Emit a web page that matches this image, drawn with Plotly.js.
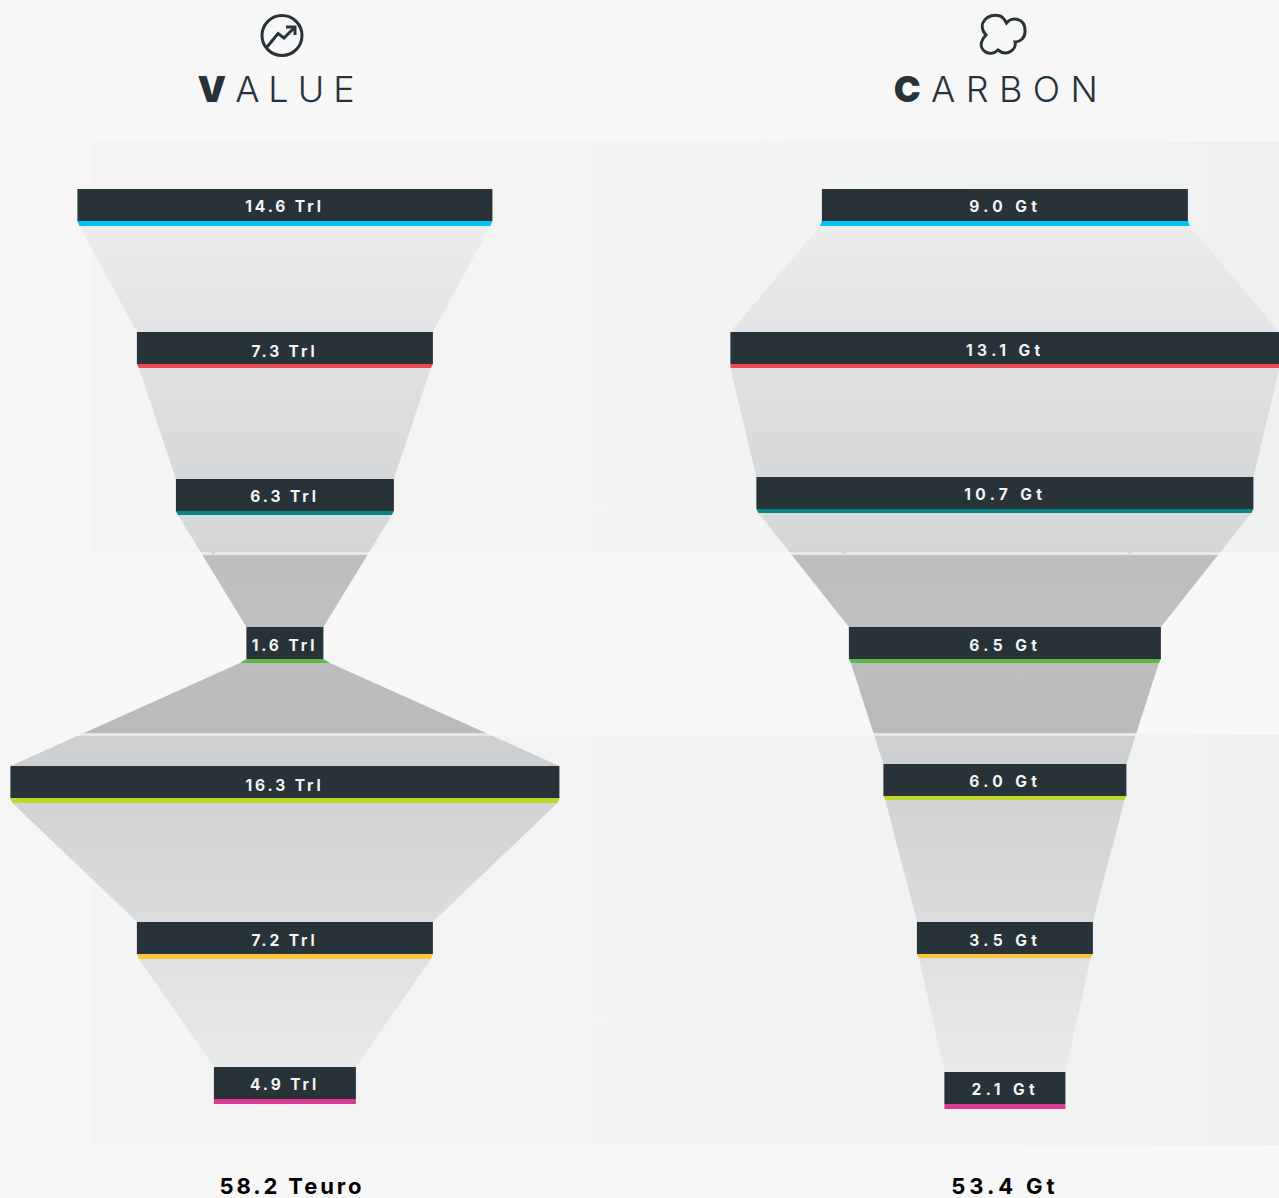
<!DOCTYPE html>
<html>
<head>
<meta charset="utf-8">
<script src="https://cdn.plot.ly/plotly-3.0.1.min.js"></script>
<style>
html,body{margin:0;padding:0;background:#f7f7f7;overflow:hidden}
.annotation[data-index="0"] text{letter-spacing:9px}
.annotation[data-index="1"] text{letter-spacing:10.4px}
.annotation[data-index="2"] text{letter-spacing:2.9px}
.annotation[data-index="3"] text{letter-spacing:3.9px}
</style>
</head>
<body>
<div id="chart" style="width:1279px;height:1198px"></div>
<script>
// Text
var valueLabels  = ["14.6 Trl","7.3 Trl","6.3 Trl","1.6 Trl","16.3 Trl","7.2 Trl","4.9 Trl"];
var carbonLabels = ["9.0 Gt","13.1 Gt","10.7 Gt","6.5 Gt","6.0 Gt","3.5 Gt","2.1 Gt"];
var stripColors  = ["#00c4f5","#ee4a55","#0a8585","#5cb947","#bcd62c","#fdc33c","#dc3a93"];

// Drawn widths
var valueBarWidth   = [415,296,218,77,549,296,142];
var valueFlareWidth = [411,292,214,90,545,292,142];
var carbonBarWidth  = [366,549,497,312,243,176,121];
var carbonFlareWidth= [370,549,493,308,239,172,121];

// Rows
var valueBarTop    = [189,332,479,627,766,922,1067];
var valueStripEnd  = [226,368,515,663,803,959,1104];
var valueLabelY    = [208,353,498,647,787,942,1086];
var carbonBarTop   = [189,332,477,627,764,922,1072];
var carbonStripEnd = [226,368,513,663,800,958,1109];
var carbonLabelY   = [208,352,496,647,783,942,1091];

var barHeight = 32;
var valueCenter = 284.9, carbonCenter = 1004.9;

// Funnel shading from top to bottom
var shadeY = [226,332,368,479,515,551.9,552,555,555.1,627,663,732.9,733,736,736.1,766,803,922,958,1067,1072];
var shadeC = ["#ebecec","#e3e4e5","#dfe0e1","#d6d8d9","#d9dadb","#d3d5d6","#e7e8e8","#e7e8e8","#bdbebf","#bfc0c1","#bcbdbe","#b9babb","#e5e6e7","#e5e6e7","#ced0d1","#cdcfd1","#d1d3d4","#dbdcdd","#e0e1e2","#e9eaea","#eaebeb"];
var shadeScale = shadeY.map(function(y,i){return [(y-shadeY[0])/(shadeY[shadeY.length-1]-shadeY[0]), shadeC[i]];});

var dark = "#273239";

function funnelPolys(c,flare,barW,top,end){
  var x=[],y=[];
  for(var i=0;i<top.length-1;i++){
    x.push(c-flare[i]/2,c+flare[i]/2,c+barW[i+1]/2,c-barW[i+1]/2,c-flare[i]/2,null);
    y.push(end[i],end[i],top[i+1],top[i+1],end[i],null);
  }
  return {type:'scatter',mode:'none',x:x,y:y,fill:'toself',hoverinfo:'skip',showlegend:false,zorder:1,
    fillcolor:'#dddddd',
    fillgradient:{type:'vertical',start:shadeY[0],stop:shadeY[shadeY.length-1],colorscale:shadeScale}};
}
function stripPolys(c,flare,barW,top,end){
  return top.map(function(t,i){
    var yb=t+barHeight;
    return {type:'scatter',mode:'none',fill:'toself',fillcolor:stripColors[i],hoverinfo:'skip',showlegend:false,zorder:2,
      x:[c-barW[i]/2,c+barW[i]/2,c+flare[i]/2,c-flare[i]/2,c-barW[i]/2],
      y:[yb,yb,end[i],end[i],yb]};
  });
}
function bars(c,barW,top){
  return {type:'bar',orientation:'h',x:barW,base:barW.map(function(w){return c-w/2;}),
    y:top.map(function(t){return t+barHeight/2;}),width:barHeight,
    marker:{color:dark,line:{width:0}},hoverinfo:'skip',showlegend:false,zorder:3};
}
function labels(c,txt,ly,spacing){
  return {type:'scatter',mode:'text',x:txt.map(function(){return c;}),y:ly,
    text:txt.map(function(t){return '<span style="letter-spacing:'+spacing+'px">'+t+'</span>';}),
    textposition:'middle center',
    textfont:{family:'Inter, "Open Sans", sans-serif',size:15.5,color:'#f4f5f5',weight:700},
    hoverinfo:'skip',showlegend:false,zorder:4};
}
var bandTop=[141,735], bandEnd=[552,1145];
function band(t,e){
  return {type:'scatter',mode:'none',fill:'toself',x:[0,1279,1279,0,0],y:[t,t,e,e,t],hoverinfo:'skip',showlegend:false,zorder:0,
    fillcolor:'#f3f3f3',
    fillgradient:{type:'horizontal',start:0,stop:1279,colorscale:[[0,'#f6f6f6'],[0.0715,'#f6f6f6'],[0.072,'#f4f4f4'],[0.45,'#f3f3f3'],[0.8,'#f1f2f2'],[1,'#eff0f0']]}};
}

var traces=[band(bandTop[0],bandEnd[0]),band(bandTop[1],bandEnd[1]),
  funnelPolys(valueCenter,valueFlareWidth,valueBarWidth,valueBarTop,valueStripEnd),
  funnelPolys(carbonCenter,carbonFlareWidth,carbonBarWidth,carbonBarTop,carbonStripEnd)]
  .concat(stripPolys(valueCenter,valueFlareWidth,valueBarWidth,valueBarTop,valueStripEnd))
  .concat(stripPolys(carbonCenter,carbonFlareWidth,carbonBarWidth,carbonBarTop,carbonStripEnd))
  .concat([bars(valueCenter,valueBarWidth,valueBarTop),bars(carbonCenter,carbonBarWidth,carbonBarTop),
    labels(valueCenter-0.4,valueLabels,valueLabelY,2.9),labels(carbonCenter+0.4,carbonLabels,carbonLabelY,4.4)]);

var iconLine={color:dark,width:3};
var notch={color:'#d3d5d6',width:0};
var shapes=[
 {type:'circle',xref:'x',yref:'y',x0:262,x1:302,y0:15.5,y1:55.5,line:iconLine,layer:'above'},
 {type:'path',xref:'x',yref:'y',path:'M267 47 L278 33.5 L284 38 L294 28',line:iconLine,layer:'above'},
 {type:'path',xref:'x',yref:'y',path:'M286 27 L295 27 L295 35',line:iconLine,layer:'above'},
 {type:'path',xref:'x',yref:'y',layer:'above',line:iconLine,
  path:'M1006.5 23 C1012 16,1026 18,1025 32 C1025 38,1020 42,1015 42 C1017 50,1006 57,998 50 C990 58,978 50,982 41 C983 38,985 36,986 35 C976 24,988 12,1000 16 C1003 17,1005 20,1006.5 23 Z'},
 {type:'path',xref:'x',yref:'y',layer:'above',line:notch,fillcolor:'#d3d5d6',path:'M210.5 552 L215.5 552 L213 555 Z'},
 {type:'path',xref:'x',yref:'y',layer:'above',line:notch,fillcolor:'#d3d5d6',path:'M841 552 L846 552 L843.5 555 Z'},
 {type:'path',xref:'x',yref:'y',layer:'above',line:notch,fillcolor:'#d3d5d6',path:'M1127 552 L1132 552 L1129.5 555 Z'}
];
var titleFont={family:'Inter, "Open Sans", sans-serif',size:36,color:dark,weight:300};
var totalFont={family:'Inter, "Open Sans", sans-serif',size:22,color:'#000000',weight:700};
var annotations=[
 {x:280,y:89,text:'<span style="font-weight:900">V</span>ALUE',font:titleFont},
 {x:1001,y:89,text:'<span style="font-weight:900">C</span>ARBON',font:titleFont},
 {x:292,y:1186,text:'58.2 Teuro',font:totalFont},
 {x:1005,y:1186,text:'53.4 Gt',font:totalFont}
].map(function(a){a.xref='x';a.yref='y';a.showarrow=false;a.xanchor='center';a.yanchor='middle';return a;});

var layout={width:1279,height:1198,margin:{l:0,r:0,t:0,b:0,pad:0},
  paper_bgcolor:'#f7f7f7',plot_bgcolor:'#f7f7f7',barmode:'overlay',showlegend:false,
  xaxis:{range:[0,1279],visible:false,fixedrange:true},
  yaxis:{range:[1198,0],visible:false,fixedrange:true},
  shapes:shapes,annotations:annotations};
Plotly.newPlot('chart',traces,layout,{displayModeBar:false,staticPlot:true});
</script>
</body>
</html>
